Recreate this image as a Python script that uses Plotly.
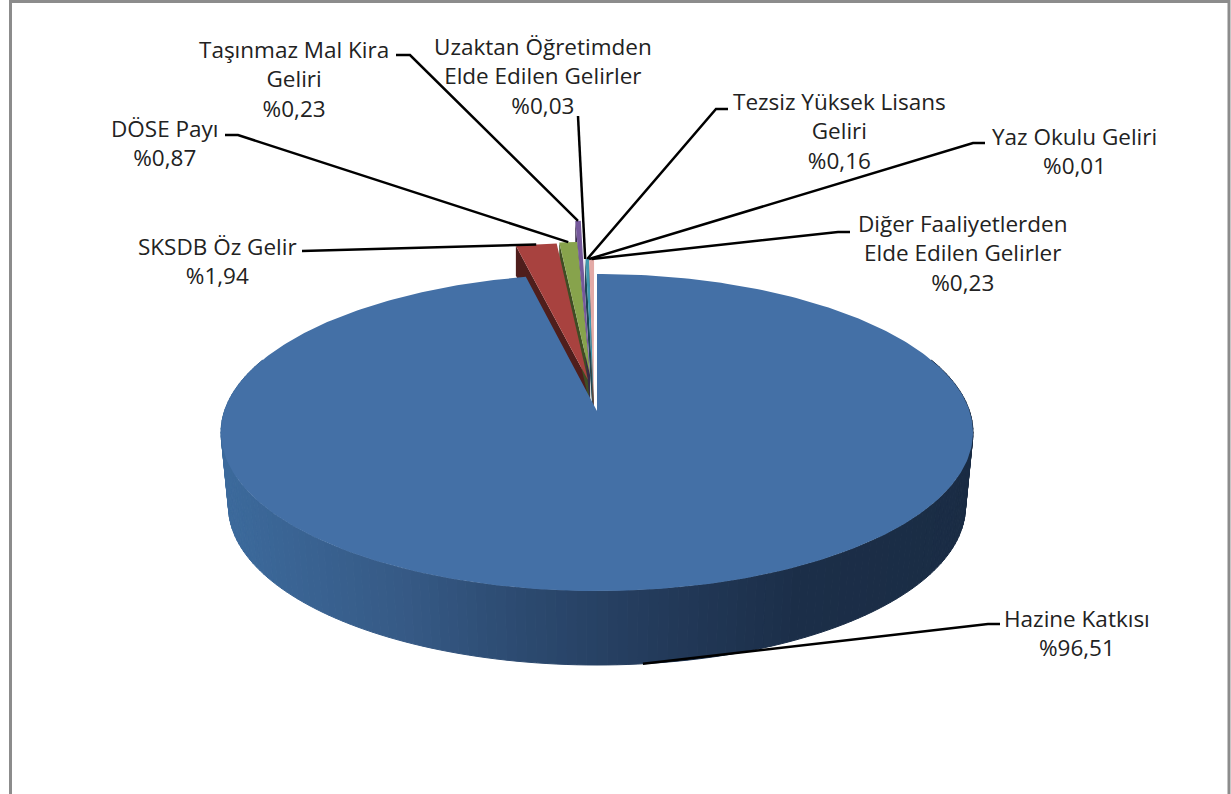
import math
import plotly.graph_objects as go

# ---------- data ----------
categories = ["Hazine Katkısı", "SKSDB Öz Gelir", "DÖSE Payı", "Taşınmaz Mal Kira Geliri",
              "Uzaktan Öğretimden Elde Edilen Gelirler", "Tezsiz Yüksek Lisans Geliri",
              "Yaz Okulu Geliri", "Diğer Faaliyetlerden Elde Edilen Gelirler"]
values = [96.51, 1.94, 0.87, 0.23, 0.03, 0.16, 0.01, 0.23]

# ---------- styles ----------
wrapped = ["Hazine Katkısı", "SKSDB Öz Gelir", "DÖSE Payı", "Taşınmaz Mal Kira<br>Geliri",
           "Uzaktan Öğretimden<br>Elde Edilen Gelirler", "Tezsiz Yüksek Lisans<br>Geliri",
           "Yaz Okulu Geliri", "Diğer Faaliyetlerden<br>Elde Edilen Gelirler"]
top_colors = ["#4470a6", "#a8423f", "#87a34c", "#75599b", "#3f97ae", "#3f97ae", "#d98a50", "#e3aaa6"]
side_colors = [None, "#4f1e1c", "#3f4d24", "#372a49", "#1e4752", "#1e4752", "#663f25", "#6b504e"]
slice_radius = [1.0, 1.06, 1.04, 1.23, 1.056, 1.056, 1.056, 1.056]
slice_apex = [(0.0, 0.0), (-0.025, 0.2055), (-0.019, 0.235), (-0.019, 0.235),
              (-0.009, 0.07), (-0.009, 0.07), (-0.009, 0.07), (-0.009, 0.07)]
label_centers = [(1077, 633), (217, 261), (165, 143), (294, 79), (543, 76), (839, 131), (1074, 151), (963, 253)]
leader_starts = [[(1000, 624), (988, 624)], [(302, 251)], [(225, 135), (238, 135)], [(396, 55), (410, 55)],
                 [(578, 116)], [(728, 109), (716, 109)], [(985, 143), (973, 143)], [(850, 232), (838, 232)]]

CX, CY, A, B, C = 597.0, 411.0, 155.6, 0.1356, 372.5
DEPTH, SHRINK = 74.0, 0.98
SMALL_DEPTH = 30.0


def project(u, v, bottom=False):
    w = 1 + B * v
    s = SHRINK if bottom else 1.0
    return CX + s * C * u / w, CY + (DEPTH if bottom else 0.0) - A * v / w


def hex_rgb(h):
    return tuple(int(h[i:i + 2], 16) for i in (1, 3, 5))


fig = go.Figure()


def poly(pts, color, line=0):
    xs = [p[0] for p in pts] + [pts[0][0]]
    ys = [p[1] for p in pts] + [pts[0][1]]
    fig.add_trace(go.Scatter(x=xs, y=ys, mode="lines", fill="toself", fillcolor=color,
                             line=dict(color=color, width=line), hoverinfo="skip", showlegend=False))


# slice angular spans, clockwise from 12 o'clock
total = sum(values)
spans = []
acc = 0.0
for val in values:
    spans.append((acc / total * 2 * math.pi, (acc + val) / total * 2 * math.pi))
    acc += val


def rim(i, t):
    a = slice_apex[i]
    return a[0] + slice_radius[i] * math.sin(t), a[1] + slice_radius[i] * math.cos(t)


# sides of the small slices
for i in range(1, len(values)):
    t0 = spans[i][0]
    ax, ay = project(*slice_apex[i])
    rx, ry = project(*rim(i, t0))
    poly([(ax, ay), (rx, ry), (rx, ry + SMALL_DEPTH), (ax, ay + SMALL_DEPTH)], side_colors[i])

# wall of the main slice, shaded left to right
wall_stops = [(220, "#3c6a9c"), (400, "#365a86"), (520, "#2c4a70"), (660, "#233a5a"), (800, "#1b2e48"), (980, "#1a2c44")]


def wall_color(x):
    for (x0, c0), (x1, c1) in zip(wall_stops, wall_stops[1:]):
        if x <= x1:
            f = max(0.0, (x - x0) / (x1 - x0))
            r0, r1 = hex_rgb(c0), hex_rgb(c1)
            return "rgb(%d,%d,%d)" % tuple(round(p + (q - p) * f) for p, q in zip(r0, r1))
    return wall_stops[-1][1]


STEPS = 160
for k in range(STEPS):
    t0 = math.radians(70 + (290 - 70) * k / STEPS)
    t1 = math.radians(70 + (290 - 70) * (k + 1) / STEPS)
    a = project(math.sin(t0), math.cos(t0))
    b = project(math.sin(t1), math.cos(t1))
    c = project(math.sin(t1), math.cos(t1), True)
    d = project(math.sin(t0), math.cos(t0), True)
    poly([a, b, c, d], wall_color((a[0] + b[0]) / 2), line=1)

# top faces
for i in range(len(values)):
    t0, t1 = spans[i]
    n = max(3, int((t1 - t0) * 60))
    pts = [project(*slice_apex[i])]
    for j in range(n + 1):
        pts.append(project(*rim(i, t0 + (t1 - t0) * j / n)))
    poly(pts, top_colors[i])

# frame
fig.add_trace(go.Scatter(x=[10.5, 10.5, 1229, 1229], y=[794, 1.5, 1.5, 794], mode="lines",
                         line=dict(color="#8c8c8c", width=3), hoverinfo="skip", showlegend=False))

# leaders and labels
for i in range(len(values)):
    tm = sum(spans[i]) / 2
    if i == 0:
        end = project(math.sin(tm), math.cos(tm), True)
    else:
        end = project(*rim(i, tm))
    pts = leader_starts[i] + [end]
    fig.add_trace(go.Scatter(x=[p[0] for p in pts], y=[p[1] for p in pts], mode="lines",
                             line=dict(color="#000000", width=2.5), hoverinfo="skip", showlegend=False))
    text = wrapped[i] + "<br>%" + f"{values[i]:.2f}".replace(".", ",")
    fig.add_annotation(x=label_centers[i][0], y=label_centers[i][1], text=text, showarrow=False,
                       xanchor="center", yanchor="middle", align="center",
                       font=dict(family="Open Sans", size=22.5, color="#222222"))

fig.update_layout(width=1231, height=794, margin=dict(l=0, r=0, t=0, b=0),
                  paper_bgcolor="white", plot_bgcolor="white", showlegend=False,
                  xaxis=dict(range=[0, 1231], visible=False, fixedrange=True),
                  yaxis=dict(range=[794, 0], visible=False, fixedrange=True))
fig.write_html("out.html", post_script="document.body.style.margin='0';",
               config=dict(displayModeBar=False))
